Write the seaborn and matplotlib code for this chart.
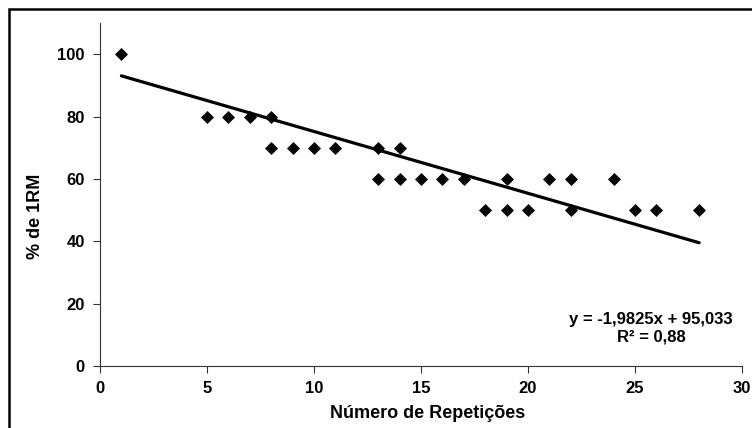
import matplotlib
matplotlib.use("Agg")
import matplotlib.pyplot as plt
import seaborn as sns
import pandas as pd
from matplotlib.patches import Rectangle

repeticoes = [1, 5, 6, 7, 8, 8, 9, 10, 11, 13, 13, 14, 14, 15, 16, 17, 18,
              19, 19, 20, 21, 22, 22, 24, 25, 26, 28]
pct_1rm = [100, 80, 80, 80, 80, 70, 70, 70, 70, 70, 60, 70, 60, 60, 60, 60, 50,
           60, 50, 50, 60, 60, 50, 60, 50, 50, 50]
slope = -1.9825
intercept = 95.033
line_x = [1, 28]
x_ticks = [0, 5, 10, 15, 20, 25, 30]
y_ticks = [0, 20, 40, 60, 80, 100]

sns.set_style("white")
plt.rcParams['font.family'] = ['Liberation Sans', 'DejaVu Sans']
plt.rcParams['text.color'] = 'black'
plt.rcParams['axes.labelcolor'] = 'black'
plt.rcParams['xtick.color'] = 'black'
plt.rcParams['ytick.color'] = 'black'

df = pd.DataFrame({"x": repeticoes, "y": pct_1rm})
line_df = pd.DataFrame({"x": line_x, "y": [slope * v + intercept for v in line_x]})

fig = plt.figure(figsize=(7.52, 4.28), dpi=100)
ax = fig.add_axes([100/752, 62/428, 642/752, 343/428])

sns.lineplot(data=line_df, x="x", y="y", ax=ax, color="black", linewidth=2.3, zorder=2)
sns.scatterplot(data=df, x="x", y="y", ax=ax, marker="D", s=44, color="black",
                edgecolor="black", linewidth=0, zorder=3)

ax.set_xlim(0, 30)
ax.set_ylim(0, 110)
ax.set_xticks(x_ticks)
ax.set_yticks(y_ticks)
ax.set_xticklabels([str(v) for v in x_ticks], fontsize=12, fontweight="bold", color="black")
ax.set_yticklabels([str(v) for v in y_ticks], fontsize=12, fontweight="bold", color="black")
ax.tick_params(axis="both", direction="out", length=5, width=0.8, color="#333333",
               bottom=True, left=True, pad=6)
for side in ["top", "right"]:
    ax.spines[side].set_visible(False)
for side in ["left", "bottom"]:
    ax.spines[side].set_color("#333333")
    ax.spines[side].set_linewidth(0.8)

ax.set_xlabel("Número de Repetições", fontsize=13, fontweight="bold", color="black")
ax.set_ylabel("% de 1RM", fontsize=13, fontweight="bold", color="black")
ax.xaxis.set_label_coords((428 - 100) / 642, (366 - 414) / 343)
ax.xaxis.label.set_va("center")
ax.yaxis.set_label_coords((35 - 100) / 642, (366 - 216) / 343)
ax.yaxis.label.set_va("center")

ax.text(0.986, (366 - 328) / 343, "y = -1,9825x + 95,033\nR² = 0,88",
        transform=ax.transAxes, ha="right", va="center", multialignment="center",
        fontsize=12, fontweight="bold", linespacing=1.2, color="black")

fig.patches.append(Rectangle((9/752, -0.2), 1.2, (428 - 9)/428 + 0.2,
                             transform=fig.transFigure, fill=False,
                             edgecolor="black", linewidth=1.8, zorder=10))

fig.savefig("out.png", dpi=100)
